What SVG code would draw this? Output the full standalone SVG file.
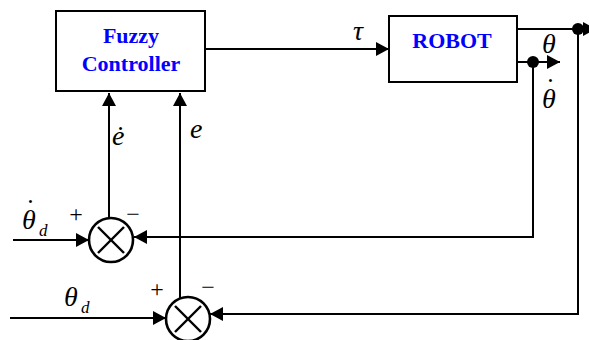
<svg xmlns="http://www.w3.org/2000/svg" width="589" height="340" viewBox="0 0 589 340">
<style>
.box{fill:#fff;stroke:#000;stroke-width:2}
.ln{fill:none;stroke:#000;stroke-width:2}
.sum{fill:#fff;stroke:#000;stroke-width:2.6}
.x{stroke:#000;stroke-width:2.4}
</style>
<defs>
<marker id="ah" markerUnits="userSpaceOnUse" markerWidth="14" markerHeight="14" refX="13" refY="7" orient="auto">
<path d="M0,0 L13,7 L0,14 z" fill="#000"/>
</marker>
</defs>
<g id="connectors">
<line class="ln" x1="205" y1="49" x2="389" y2="49" marker-end="url(#ah)"/>
<polyline class="ln" points="517,29 578,29 578,314 210,314" marker-end="url(#ah)"/>
<line class="ln" x1="578" y1="29" x2="596" y2="29" marker-end="url(#ah)"/>
<line class="ln" x1="517" y1="62" x2="560" y2="62" marker-end="url(#ah)"/>
<polyline class="ln" points="533,62 533,237 134,237" marker-end="url(#ah)"/>
<line class="ln" x1="13" y1="240" x2="89" y2="240" marker-end="url(#ah)"/>
<line class="ln" x1="10" y1="318" x2="166" y2="318" marker-end="url(#ah)"/>
<line class="ln" x1="109" y1="218" x2="109" y2="93" marker-end="url(#ah)"/>
<line class="ln" x1="180" y1="298" x2="180" y2="93" marker-end="url(#ah)"/>
<circle cx="578" cy="29" r="6" fill="#000"/>
<circle cx="533" cy="62" r="6" fill="#000"/>
</g>
<g id="fuzzy">
<rect class="box" x="56" y="11" width="149" height="80"/>
<text x="131" y="43" font-family="Liberation Serif, serif" font-weight="bold" font-size="22" fill="#0000ff" text-anchor="middle">Fuzzy</text>
<text x="131" y="71" font-family="Liberation Serif, serif" font-weight="bold" font-size="22" fill="#0000ff" text-anchor="middle">Controller</text>
</g>
<g id="robot">
<rect class="box" x="389" y="16" width="128" height="66"/>
<text x="452" y="48" font-family="Liberation Serif, serif" font-weight="bold" font-size="22" fill="#0000ff" text-anchor="middle">ROBOT</text>
</g>
<g id="sum1">
<circle class="sum" cx="111" cy="240" r="22"/>
<line class="x" x1="98" y1="227" x2="124" y2="253"/>
<line class="x" x1="124" y1="227" x2="98" y2="253"/>
</g>
<g id="sum2">
<circle class="sum" cx="188" cy="319" r="22"/>
<line class="x" x1="175" y1="306" x2="201" y2="332"/>
<line class="x" x1="201" y1="306" x2="175" y2="332"/>
</g>
<g id="labels" font-family="Liberation Serif, serif" fill="#000">
<text x="353" y="40" font-style="italic" font-size="28">τ</text>
<text x="542" y="53" font-style="italic" font-size="28">θ</text>
<text x="542" y="108" font-style="italic" font-size="28">θ<tspan dx="-10" dy="-11" font-style="normal">˙</tspan></text>
<text x="112" y="145" font-style="italic" font-size="28">ė</text>
<text x="190" y="138" font-style="italic" font-size="28">e</text>
<text x="22" y="229" font-style="italic" font-size="28">θ<tspan dx="-10" dy="-11" font-style="normal">˙</tspan></text>
<text x="39" y="236" font-style="italic" font-size="17">d</text>
<text x="64" y="306" font-style="italic" font-size="28">θ</text>
<text x="81" y="313" font-style="italic" font-size="17">d</text>
<text x="76" y="222" font-size="24" text-anchor="middle">+</text>
<text x="133" y="222" font-size="24" text-anchor="middle">−</text>
<text x="157" y="297" font-size="24" text-anchor="middle">+</text>
<text x="208" y="295" font-size="24" text-anchor="middle">−</text>
</g>
</svg>
